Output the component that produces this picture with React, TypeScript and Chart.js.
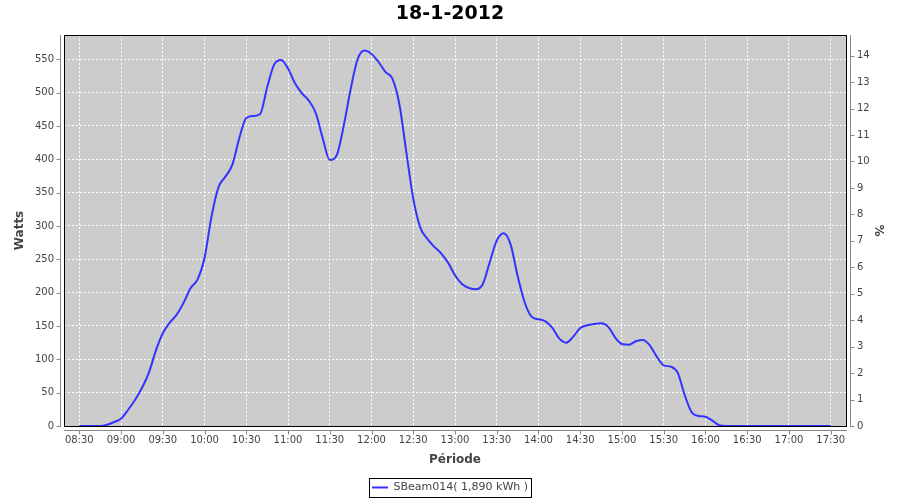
import React, { useEffect, useRef } from "react";
import { Chart, registerables } from "chart.js";

Chart.register(...registerables);

const chartTitle = "18-1-2012";
const seriesLabel = "SBeam014( 1,890 kWh )";
const yTitle = "Watts";
const y2Title = "%";
const xTitle = "Période";

// sample times (5-minute steps)
const times = [
  "08:30", "08:35", "08:40", "08:45", "08:50", "08:55",
  "09:00", "09:05", "09:10", "09:15", "09:20", "09:25", "09:30", "09:35", "09:40", "09:45", "09:50", "09:55",
  "10:00", "10:05", "10:10", "10:15", "10:20", "10:25", "10:30", "10:35", "10:40", "10:45", "10:50", "10:55",
  "11:00", "11:05", "11:10", "11:15", "11:20", "11:25", "11:30", "11:35", "11:40", "11:45", "11:50", "11:55",
  "12:00", "12:05", "12:10", "12:15", "12:20", "12:25", "12:30", "12:35", "12:40", "12:45", "12:50", "12:55",
  "13:00", "13:05", "13:10", "13:15", "13:20", "13:25", "13:30", "13:35", "13:40", "13:45", "13:50", "13:55",
  "14:00", "14:05", "14:10", "14:15", "14:20", "14:25", "14:30", "14:35", "14:40", "14:45", "14:50", "14:55",
  "15:00", "15:05", "15:10", "15:15", "15:20", "15:25", "15:30", "15:35", "15:40", "15:45", "15:50", "15:55",
  "16:00", "16:05", "16:10", "16:15", "16:20", "16:25", "16:30", "16:35", "16:40", "16:45", "16:50", "16:55",
  "17:00", "17:05", "17:10", "17:15", "17:20", "17:25", "17:30",
];

const watts = [
  0, 0, 0, 0, 2, 6,
  11, 24, 39, 57, 80, 113, 139, 155, 167, 185, 207, 220,
  252, 314, 358, 374, 392, 432, 462, 465, 468, 508, 542, 549,
  536, 514, 499, 488, 469, 431, 399, 406, 450, 505, 550, 563,
  558, 546, 531, 521, 483, 411, 341, 298, 281, 269, 259, 245,
  226, 213, 207, 205, 213, 246, 278, 289, 272, 225, 186, 164,
  160, 157, 147, 131, 125, 134, 147, 151, 153, 154, 149, 133,
  123, 122, 127, 129, 121, 104, 91, 89, 80, 47, 21, 15,
  14, 8, 1, 0, 0, 0, 0, 0, 0, 0, 0, 0,
  0, 0, 0, 0, 0, 0, 0,
];

const xTickLabels = [
  "08:30", "09:00", "09:30", "10:00", "10:30", "11:00", "11:30", "12:00", "12:30",
  "13:00", "13:30", "14:00", "14:30", "15:00", "15:30", "16:00", "16:30", "17:00", "17:30",
];
const wattTicks = [0, 50, 100, 150, 200, 250, 300, 350, 400, 450, 500, 550];
const percentTicks = [0, 1, 2, 3, 4, 5, 6, 7, 8, 9, 10, 11, 12, 13, 14];

const xMin = "08:19";
const xMax = "17:41";
const wattMax = 586.4;
const percentMax = 14.78;

const toMin = (s: string) => {
  const [h, m] = s.split(":").map(Number);
  return h * 60 + m;
};
const fmtMin = (v: number) => {
  const h = Math.floor(v / 60);
  const m = Math.round(v - h * 60);
  return String(h).padStart(2, "0") + ":" + String(m).padStart(2, "0");
};

const FONT = "DejaVu Sans";
const AXIS_GRAY = "#888888";
const TEXT_GRAY = "#444444";

const decorPlugin = {
  id: "decor",
  beforeDraw(chart: any) {
    const { ctx, chartArea: a } = chart;
    ctx.save();
    ctx.fillStyle = "#ffffff";
    ctx.fillRect(0, 0, chart.width, chart.height);
    ctx.fillStyle = "#cccccc";
    ctx.fillRect(a.left, a.top, a.right - a.left, a.bottom - a.top);
    ctx.restore();
  },
  afterDraw(chart: any) {
    const { ctx, chartArea: a, scales } = chart;
    ctx.save();
    // plot outline
    ctx.strokeStyle = "#000000";
    ctx.lineWidth = 1;
    ctx.strokeRect(Math.round(a.left) + 0.5, Math.round(a.top) + 0.5, Math.round(a.right) - Math.round(a.left), Math.round(a.bottom) - Math.round(a.top));

    // offset axis lines
    ctx.strokeStyle = AXIS_GRAY;
    const L = Math.round(a.left) - 4 + 0.5;
    const R = Math.round(a.right) + 4 + 0.5;
    const B = Math.round(a.bottom) + 4 + 0.5;
    ctx.beginPath();
    ctx.moveTo(L, a.top);
    ctx.lineTo(L, a.bottom + 1);
    ctx.moveTo(R, a.top);
    ctx.lineTo(R, a.bottom + 1);
    ctx.moveTo(a.left, B);
    ctx.lineTo(a.right + 1, B);
    // tick marks
    for (const t of scales.y.ticks) {
      const p = Math.round(scales.y.getPixelForValue(t.value)) + 0.5;
      ctx.moveTo(L - 4, p);
      ctx.lineTo(L, p);
    }
    for (const t of scales.y2.ticks) {
      const p = Math.round(scales.y2.getPixelForValue(t.value)) + 0.5;
      ctx.moveTo(R, p);
      ctx.lineTo(R + 4, p);
    }
    for (const t of scales.x.ticks) {
      const p = Math.round(scales.x.getPixelForValue(t.value)) + 0.5;
      ctx.moveTo(p, B);
      ctx.lineTo(p, B + 4);
    }
    ctx.stroke();

    // legend frame
    const legend = chart.legend;
    if (legend && legend.legendHitBoxes && legend.legendHitBoxes.length) {
      const hb = legend.legendHitBoxes[0];
      ctx.strokeStyle = "#000000";
      ctx.strokeRect(Math.round(hb.left) - 3 + 0.5, Math.round(hb.top) - 4 + 0.5, Math.round(hb.width) + 6, 19);
    }
    ctx.restore();
  },
};

export default function App() {
  const ref = useRef<HTMLCanvasElement | null>(null);

  useEffect(() => {
    if (!ref.current) return;
    const points = times.map((t, i) => ({ x: toMin(t), y: watts[i] }));
    const chart = new Chart(ref.current, {
      type: "line",
      data: {
        datasets: [
          {
            label: seriesLabel,
            data: points,
            borderColor: "#3333ff",
            backgroundColor: "#3333ff",
            borderWidth: 2,
            pointRadius: 0,
            fill: false,
            cubicInterpolationMode: "monotone",
            yAxisID: "y",
            xAxisID: "x",
          },
        ],
      },
      plugins: [decorPlugin],
      options: {
        responsive: false,
        animation: false,
        devicePixelRatio: 1,
        layout: { padding: { top: 0, left: 0, right: 0, bottom: -3 } },
        plugins: {
          title: {
            display: true,
            text: chartTitle,
            color: "#000000",
            font: { family: FONT, size: 19, weight: "bold" },
            padding: { top: 3, bottom: 9.2 },
          },
          legend: {
            display: true,
            position: "bottom",
            labels: {
              usePointStyle: true,
              pointStyle: "line",
              pointStyleWidth: 16,
              boxWidth: 16,
              padding: 8,
              color: TEXT_GRAY,
              font: { family: FONT, size: 11 },
            },
          },
          tooltip: { enabled: false },
        },
        scales: {
          x: {
            type: "linear",
            min: toMin(xMin),
            max: toMin(xMax),
            afterBuildTicks: (s: any) => {
              s.ticks = xTickLabels.map((l) => ({ value: toMin(l) }));
            },
            afterFit: (s: any) => {
              s.height = 48;
            },
            ticks: {
              autoSkip: false,
              maxRotation: 0,
              minRotation: 0,
              padding: 8,
              color: TEXT_GRAY,
              font: { family: FONT, size: 10 },
              callback: (v: any) => fmtMin(Number(v)),
            },
            grid: { color: "#ffffff", lineWidth: 1, drawTicks: false },
            border: { display: false, dash: [2, 2] },
            title: {
              display: true,
              text: xTitle,
              color: TEXT_GRAY,
              font: { family: FONT, size: 12, weight: "bold" },
              padding: { top: 0, bottom: 6.8 },
            },
          },
          y: {
            type: "linear",
            position: "left",
            min: 0,
            max: wattMax,
            afterBuildTicks: (s: any) => {
              s.ticks = wattTicks.map((v) => ({ value: v }));
            },
            afterFit: (s: any) => {
              s.width = 64;
            },
            ticks: {
              padding: 10,
              color: TEXT_GRAY,
              font: { family: FONT, size: 10 },
            },
            grid: { color: "#ffffff", lineWidth: 1, drawTicks: false },
            border: { display: false, dash: [2, 2] },
            title: {
              display: true,
              text: yTitle,
              color: TEXT_GRAY,
              font: { family: FONT, size: 12, weight: "bold" },
              padding: { top: 12.8, bottom: 0 },
            },
          },
          y2: {
            type: "linear",
            position: "right",
            min: 0,
            max: percentMax,
            afterBuildTicks: (s: any) => {
              s.ticks = percentTicks.map((v) => ({ value: v }));
            },
            afterFit: (s: any) => {
              s.width = 54;
            },
            ticks: {
              padding: 11,
              color: TEXT_GRAY,
              font: { family: FONT, size: 10 },
            },
            grid: { drawOnChartArea: false, drawTicks: false },
            border: { display: false },
            title: {
              display: true,
              text: y2Title,
              color: TEXT_GRAY,
              font: { family: FONT, size: 12, weight: "bold" },
              padding: { top: 15, bottom: 0 },
            },
          },
        },
      },
    } as any);
    return () => chart.destroy();
  }, []);

  return (
    <div style={{ position: "fixed", left: 0, top: 0, width: 900, height: 500, background: "#ffffff" }}>
      <canvas ref={ref} width={900} height={500} style={{ display: "block" }} />
    </div>
  );
}
